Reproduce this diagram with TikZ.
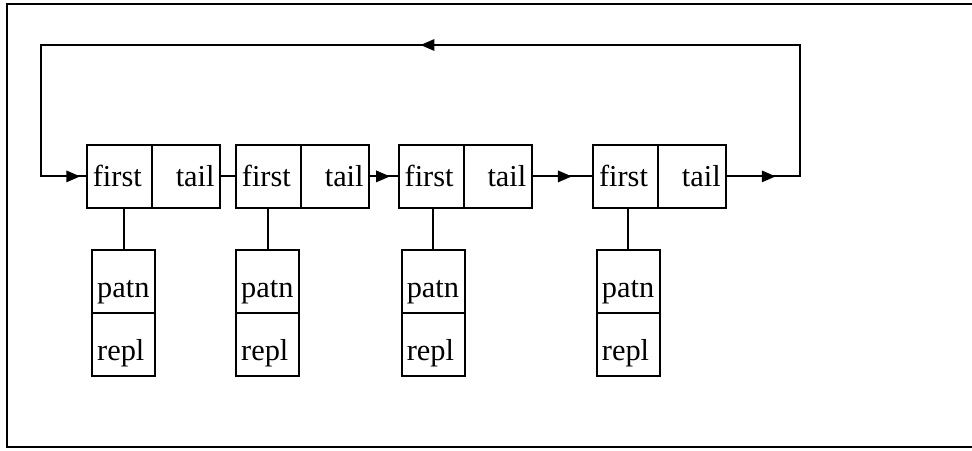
\documentclass[tikz,border=0pt]{standalone}
\usepackage{fontspec}
\setmainfont{Liberation Serif}
\usetikzlibrary{positioning}
\usetikzlibrary{arrows.meta}
\usetikzlibrary{decorations.markings}

\begin{document}
\begin{tikzpicture}[
    line width=0.8pt,
    font=\fontsize{12}{14}\selectfont,
    celda/.style={draw, outer sep=0pt, inner xsep=0.08cm, inner ysep=0pt,
      text height=0.575cm, text depth=0.3cm},
    cfirst/.style={celda, text width=0.74cm, align=left},
    ctail/.style={celda, text width=0.79cm, align=right},
    csub/.style={draw, outer sep=0pt, inner xsep=0.07cm, inner ysep=0pt,
      text width=0.735cm, align=left, text height=0.655cm, text depth=0.22cm},
    flecha/.style={postaction={decorate}, decoration={markings,
      mark=at position #1 with {\arrow{Triangle[length=5.5pt,width=4.5pt]}}}}
  ]
  \useasboundingbox (0,0) rectangle (13.5,6.25);

  % Marco abierto a la derecha
  \draw (13.5,6.194) -- (0.097,6.194) -- (0.097,0.042) -- (13.5,0.042);

  % Celdas de la lista
  \node[cfirst, anchor=west] (f1) at (1.21,3.80) {first};
  \node[ctail, right=0pt of f1] (t1) {tail};
  \node[cfirst, anchor=west] (f2) at (3.28,3.80) {first};
  \node[ctail, right=0pt of f2] (t2) {tail};
  \node[cfirst, anchor=west] (f3) at (5.54,3.80) {first};
  \node[ctail, right=0pt of f3] (t3) {tail};
  \node[cfirst, anchor=west] (f4) at (8.24,3.80) {first};
  \node[ctail, right=0pt of f4] (t4) {tail};

  % Pares patn/repl
  \node[csub, anchor=north west] (p1) at (1.28,2.78) {patn};
  \node[csub, below=0pt of p1] (r1) {repl};
  \node[csub, anchor=north west] (p2) at (3.28,2.78) {patn};
  \node[csub, below=0pt of p2] (r2) {repl};
  \node[csub, anchor=north west] (p3) at (5.58,2.78) {patn};
  \node[csub, below=0pt of p3] (r3) {repl};
  \node[csub, anchor=north west] (p4) at (8.29,2.78) {patn};
  \node[csub, below=0pt of p4] (r4) {repl};

  \draw (p1.north) -- (p1.north |- f1.south);
  \draw (p2.north) -- (p2.north |- f2.south);
  \draw (p3.north) -- (p3.north |- f3.south);
  \draw (p4.north) -- (p4.north |- f4.south);

  % Enlaces tail -> first
  \draw (t1.east) -- (f2.west);
  \draw[flecha=0.7] (t2.east) -- (f3.west);
  \draw[flecha=0.65] (t3.east) -- (f4.west);

  % Vuelta al principio
  \coordinate (dsup) at (11.11,5.625);
  \coordinate (isup) at (0.57,5.625);
  \coordinate (dmed) at (t4.east -| dsup);
  \coordinate (imed) at (f1.west -| isup);
  \draw (t4.east) -- (dmed) -- (dsup) -- (isup) -- (imed) -- (f1.west);
  \path[flecha=0.67] (t4.east) -- (dmed);
  \path[flecha=0.5] (dsup) -- (isup);
  \path[flecha=0.85] (imed) -- (f1.west);
\end{tikzpicture}
\end{document}
